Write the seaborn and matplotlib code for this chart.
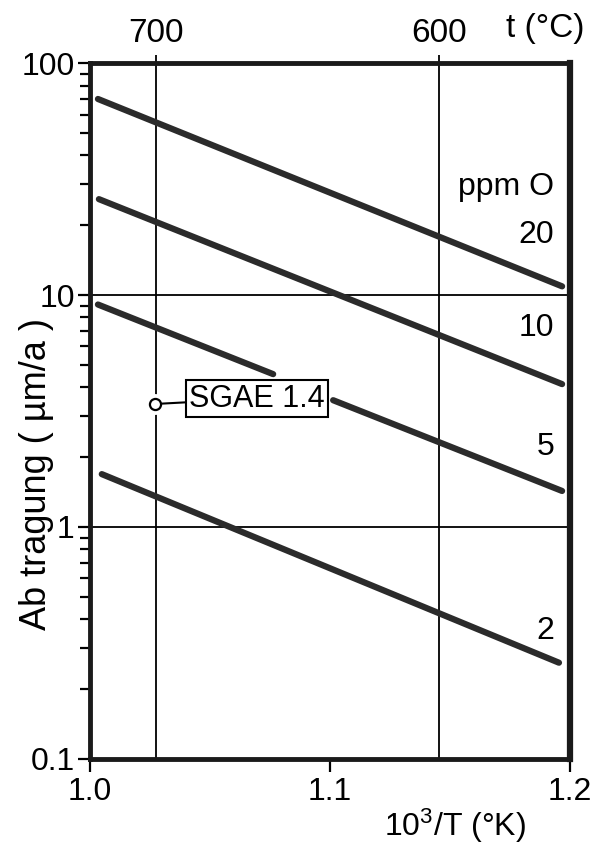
import numpy as np
import pandas as pd
import matplotlib
matplotlib.use('Agg')
import matplotlib.pyplot as plt
import seaborn as sns
from matplotlib.ticker import LogLocator, NullFormatter

# oxygen content of each line (ppm O) and the line end points
ppm = [20, 10, 5, 2]
x_left = [1.0033, 1.0037, 1.0033, 1.0049]
y_left = [70.0, 25.9, 9.1, 1.69]
x_right = [1.1967, 1.1967, 1.1967, 1.1954]
y_right = [10.9, 4.13, 1.43, 0.26]

# gap in the 5 ppm line where the SGAE label sits
gap_x = [1.0763, 1.1013]
gap_y = [4.56, 3.52]

# SGAE 1.4 measurement point
sgae_x = 1.0270
sgae_y = 3.39
sgae_label = 'SGAE 1.4'

# line label positions
label_text = ['ppm O', '20', '10', '5', '2']
label_y = [29.2, 18.2, 7.2, 2.21, 0.356]

t_ticks = [700, 600]
x_ticks = [1.0, 1.1, 1.2]
y_ticks = [0.1, 1, 10, 100]
y_ticklabels = ['0.1', '1', '10', '100']

sns.set_theme(style='white')
plt.rcParams['font.family'] = ['Liberation Sans', 'DejaVu Sans']
plt.rcParams['mathtext.default'] = 'regular'
plt.rcParams['font.size'] = 23

# build segments, splitting the 5 ppm line at the label
rows = []
seg = 0
for p, x0, y0, x1, y1 in zip(ppm, x_left, y_left, x_right, y_right):
    if p == 5:
        pts = [[(x0, y0), (gap_x[0], gap_y[0])], [(gap_x[1], gap_y[1]), (x1, y1)]]
    else:
        pts = [[(x0, y0), (x1, y1)]]
    for part in pts:
        for xx, yy in part:
            rows.append({'x': xx, 'y': yy, 'seg': seg, 'ppm': p})
        seg += 1
df = pd.DataFrame(rows)

fig = plt.figure(figsize=(5.99, 8.52), dpi=100)
ax = fig.add_axes([0.1503, 0.1092, 0.8013, 0.8168])

ax.set_yscale('log')
ax.set_xlim(1.0, 1.2)
ax.set_ylim(0.1, 100)

# grid: temperature lines and decades
for t in t_ticks:
    ax.axvline(1000.0 / (t + 273.15), color='black', lw=1.3, zorder=1)
for yv in [1, 10]:
    ax.axhline(yv, color='black', lw=1.3, zorder=1)

sns.lineplot(data=df, x='x', y='y', units='seg', estimator=None, sort=False,
             color='#2b2b2b', lw=4.5, ax=ax, legend=False, zorder=3,
             solid_capstyle='round')

ax.set_xticks(x_ticks)
ax.set_xticklabels(['1.0', '1.1', '1.2'])
ax.set_yticks(y_ticks)
ax.set_yticklabels(y_ticklabels)
ax.yaxis.set_minor_locator(LogLocator(base=10, subs=np.arange(2, 10)))
ax.yaxis.set_minor_formatter(NullFormatter())
ax.tick_params(axis='both', which='major', direction='out', length=9, width=1.6,
               color='black', labelsize=23, pad=2, labelcolor='black')
ax.tick_params(axis='y', which='minor', direction='out', length=7, width=1.6, color='black', left=True)
ax.tick_params(axis='x', which='major', bottom=True, pad=4)
ax.tick_params(axis='y', which='major', left=True)

for side in ['left', 'right', 'top', 'bottom']:
    ax.spines[side].set_color('#1a1a1a')
    ax.spines[side].set_linewidth(3.5)
ax.spines['right'].set_linewidth(4.5)

ax.set_xlabel('')
ax.set_ylabel('Ab tragung ( µm/a )', fontsize=26, color='black')
ax.yaxis.set_label_coords(-0.075, 0.41)
ax.text(0.76, -0.068, '10$^{3}$/T (°K)', transform=ax.transAxes, fontsize=23,
        ha='center', va='top', color='black')

# top temperature axis
sec = ax.secondary_xaxis('top', functions=(lambda x: 1000.0 / x - 273.15,
                                           lambda t: 1000.0 / (t + 273.15)))
sec.set_xticks(t_ticks)
sec.set_xticklabels([str(t) for t in t_ticks])
sec.tick_params(direction='out', length=6, width=1.3, labelsize=24, pad=4,
                color='black', labelcolor='black')
sec.spines['top'].set_visible(False)
ax.text(1.03, 1.05, 't (°C)', transform=ax.transAxes, fontsize=24,
        ha='right', va='center', color='black')

# line labels
for txt, yv in zip(label_text, label_y):
    ax.text(1.1935, yv, txt, fontsize=23, ha='right', va='center', color='black')

# SGAE 1.4 point and box
ax.plot([sgae_x], [sgae_y], marker='o', ms=14, mfc='white', mec='white', zorder=4)
ax.plot([sgae_x], [sgae_y], marker='o', ms=8, mfc='white', mec='black', mew=1.6, zorder=5)
ax.annotate(sgae_label, xy=(sgae_x, sgae_y), xytext=(1.0696, 3.58),
            fontsize=22, ha='center', va='center', color='black', zorder=5,
            bbox=dict(boxstyle='square,pad=0.1', fc='white', ec='black', lw=1.5),
            arrowprops=dict(arrowstyle='-', color='black', lw=1.5, shrinkA=0, shrinkB=5))

fig.savefig('out.png', dpi=100)
